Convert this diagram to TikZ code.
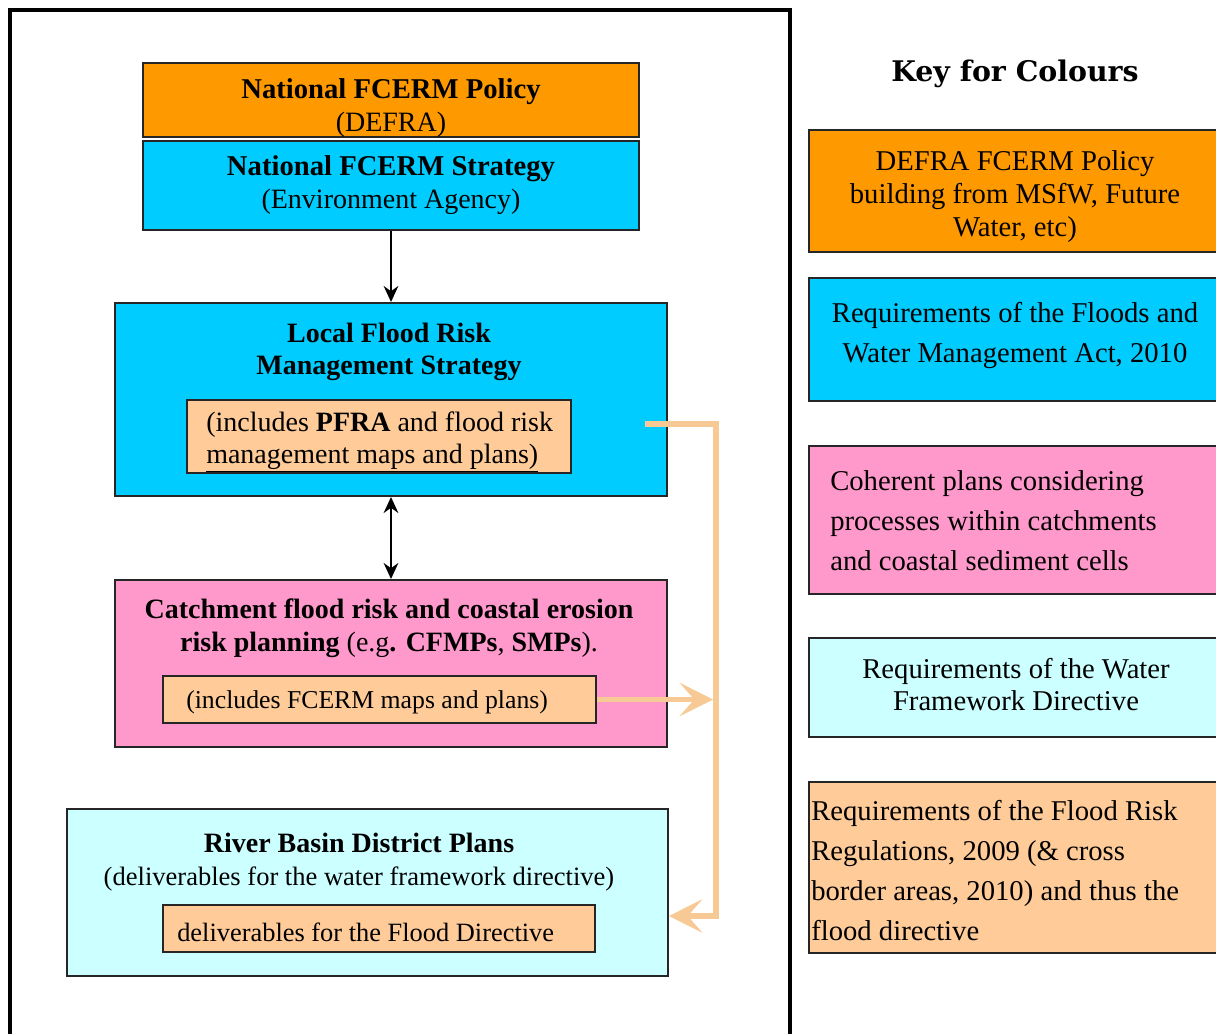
\documentclass[tikz,border=0pt]{standalone}
\usepackage{fontspec}
\setmainfont{Liberation Serif}
\newfontfamily\titlefont{DejaVu Serif}
\usetikzlibrary{arrows.meta}
\definecolor{cOrange}{HTML}{FF9900}
\definecolor{cCyan}{HTML}{00CCFF}
\definecolor{cPink}{HTML}{FF99CC}
\definecolor{cLightCyan}{HTML}{CCFFFF}
\definecolor{cPeach}{HTML}{FFCC99}
\definecolor{cConn}{HTML}{F7C994}
\tikzset{
  box/.style={draw=black!85, line width=1.5pt, inner sep=0pt, rectangle},
  mainfont/.style={font=\fontsize{21}{24.5}\selectfont},
  keytext/.style={font=\fontsize{21.5}{30}\selectfont, inner sep=0pt},
  txt/.style={inner sep=0pt},
  blackarrow/.style={line width=1.3pt, draw=black},
  blacktip/.tip={Stealth[length=12pt,width=11pt]},
  conn/.style={line width=3.8pt, draw=cConn},
  connhead/.style={-{Stealth[length=25pt,width=25pt,inset=11pt]}}
}
\newcommand{\bsize}{\fontsize{21.5}{24.5}\selectfont}
\begin{document}
\begin{tikzpicture}[x=0.75pt,y=-0.75pt]
\useasboundingbox (0,0) rectangle (1216,1034);
\clip (0,0) rectangle (1216,1034);
\fill[white] (0,0) rectangle (1216,1034);
% frame
\draw[line width=2.6pt] (10,1060) -- (10,10) -- (790,10) -- (790,1060);
\coordinate (frame) at (10,10);

% left column boxes
\node[box, fill=cOrange, minimum width=372pt, minimum height=55.5pt] (policy) at (391,100) {};
\node[box, fill=cCyan, minimum width=372pt, minimum height=66.75pt] (strategy) at (391,185.5) {};
\node[box, fill=cCyan, minimum width=414pt, minimum height=144.75pt] (lfrms) at (391,399.5) {};
\node[box, fill=cPeach, minimum width=288pt, minimum height=54.75pt] (lfrmsinner) at (379,436.5) {};
\node[box, fill=cPink, minimum width=414pt, minimum height=125.25pt] (catch) at (391,663.5) {};
\node[box, fill=cPeach, minimum width=324.75pt, minimum height=35.25pt] (catchinner) at (379.5,699.5) {};
\node[box, fill=cLightCyan, minimum width=450.75pt, minimum height=125.25pt] (rbd) at (367.5,892.5) {};
\node[box, fill=cPeach, minimum width=324pt, minimum height=35.25pt] (rbdinner) at (379,928.5) {};

% texts
\node[txt, mainfont, align=center] (policytxt) at (391,108) {{\bsize\textbf{National FCERM Policy}}\\(DEFRA)};
\node[txt, mainfont, align=center] (strategytxt) at (391,185) {{\bsize\textbf{National FCERM Strategy}}\\(Environment Agency)};
\node[txt, mainfont, align=center] (lfrmstxt) at (389,352) {\textbf{Local Flood Risk}\\\textbf{Management Strategy}};
\node[txt, mainfont, align=left, anchor=west] (lfrmsinnertxt) at (206,442) {(includes \textbf{PFRA} and flood risk\\\underline{management maps and plans)}};
\node[txt, mainfont, align=center] (catchtxt) at (389,628) {\textbf{Catchment flood risk and coastal erosion}\\\textbf{risk planning} (e.g\textbf{. CFMPs}, \textbf{SMPs}).};
\node[txt, font=\fontsize{19.3}{23}\selectfont, anchor=west] (catchinnertxt) at (186,702) {(includes FCERM maps and plans)};
\node[txt, mainfont, align=center] (rbdtxt) at (359,862) {\textbf{River Basin District Plans}\\{\fontsize{19.9}{24.5}\selectfont (deliverables for the water framework directive)}};
\node[txt, font=\fontsize{19.8}{24}\selectfont, anchor=west] (rbdinnertxt) at (177,932) {deliverables for the Flood Directive};

% black arrows
\draw[blackarrow, -{blacktip}] (strategy.south) -- (lfrms.north);
\draw[blackarrow, {blacktip}-{blacktip}] (lfrms.south) -- (catch.north);

% orange connectors
\coordinate (c1) at (645,424);
\coordinate (c2) at (716,424);
\coordinate (c2l) at (713,424);
\coordinate (c3) at (716,916);
\draw[conn, connhead, line join=miter] (c1) -- (c2) -- (c3) -- (rbd.east |- c3);
\draw[conn, connhead] (catchinner.east) -- (c2l |- catchinner.east);

% key
\node[txt, font=\titlefont\bfseries\fontsize{21.3}{24}\selectfont] (keytitle) at (1015,74) {Key for Colours};
\node[box, fill=cOrange, minimum width=315.75pt, minimum height=91.5pt] (key1) at (1019.5,191) {};
\node[box, fill=cCyan, minimum width=315.75pt, minimum height=92.25pt] (key2) at (1019.5,339.5) {};
\node[box, fill=cPink, minimum width=315.75pt, minimum height=111pt] (key3) at (1019.5,520) {};
\node[box, fill=cLightCyan, minimum width=315.75pt, minimum height=74.25pt] (key4) at (1019.5,687.5) {};
\node[box, fill=cPeach, minimum width=315.75pt, minimum height=128.25pt] (key5) at (1019.5,867.5) {};

\node[keytext, font=\fontsize{21.5}{24.75}\selectfont, align=center] (key1txt) at (1015,197) {DEFRA FCERM Policy\\building from MSfW, Future\\Water, etc)};
\node[keytext, align=center] (key2txt) at (1015,336) {Requirements of the Floods and\\Water Management Act, 2010};
\node[keytext, align=left, anchor=west] (key3txt) at (830,521) {Coherent plans considering\\processes within catchments\\and coastal sediment cells};
\node[keytext, font=\fontsize{21.5}{24}\selectfont, align=center] (key4txt) at (1016,685) {Requirements of the Water\\Framework Directive};
\node[keytext, align=left, anchor=west] (key5txt) at (811,871) {Requirements of the Flood Risk\\Regulations, 2009 (\& cross\\border areas, 2010) and thus the\\flood directive};
\end{tikzpicture}
\end{document}
